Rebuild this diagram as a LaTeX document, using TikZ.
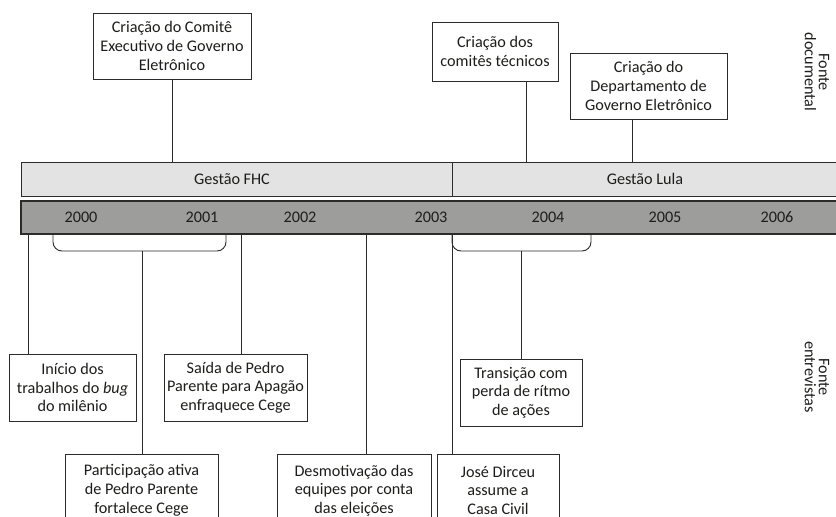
\documentclass[tikz,border=0pt]{standalone}
\usepackage{fontspec}
\setmainfont{Carlito}
\definecolor{bandlight}{HTML}{E3E3E3}
\definecolor{banddark}{HTML}{9D9D9C}
\definecolor{linec}{HTML}{2B2B2A}
\definecolor{txt}{HTML}{1D1D1B}
\begin{document}
\begin{tikzpicture}[x=1pt,y=-1pt,
  box/.style={draw=linec,line width=0.9pt,fill=white,align=center,inner sep=0pt,text=txt,font=\fontsize{16.2}{18.7}\selectfont},
  conn/.style={draw=linec,line width=0.9pt},
  yr/.style={font=\fontsize{16.2}{16}\selectfont,text=txt},
  band/.style={font=\fontsize{16.2}{16}\selectfont,text=txt},
  src/.style={font=\fontsize{16.2}{14}\selectfont,align=center,rotate=-90,text=txt}]
\useasboundingbox (0,0) rectangle (836,517);
\clip (0,0) rectangle (836,517);
% bands
\draw[conn,fill=bandlight] (21,162) rectangle (845,196);
\draw[conn,fill=banddark,line width=1.1pt] (21,201) rectangle (845,234);
\node[band] (fhc) at (232,179) {Gestão FHC};
\node[band] (lula) at (645,179) {Gestão Lula};
\foreach \x/\y in {81/2000,202/2001,300/2002,431/2003,548/2004,665/2005,777/2006}
  \node[yr] (y\y) at (\x,217.5) {\y};
% top boxes
\node[box,minimum width=158pt,minimum height=66pt] (c1) at (172,46) {Criação do Comitê\\Executivo de Governo\\Eletrônico};
\node[box,minimum width=126pt,minimum height=59pt] (c2) at (495,51.5) {Criação dos\\comitês técnicos};
\node[box,minimum width=157pt,minimum height=66pt] (c3) at (648.5,86) {Criação do\\Departamento de\\Governo Eletrônico};
\coordinate (g1) at (172,162);
\coordinate (g2) at (526,162);
\coordinate (g3) at (632,162);
\draw[conn] (c1.south -| g1) -- (g1);
\draw[conn] (c2.south -| g2) -- (g2);
\draw[conn] (c3.south -| g3) -- (g3);
% divider FHC / Lula
\coordinate (dtop) at (452,162);
\coordinate (dbot) at (452,196);
\draw[conn] (dtop) -- (dbot);
% braces
\coordinate (br1a) at (53,234);
\coordinate (br1b) at (226,234);
\coordinate (br2a) at (452,234);
\coordinate (br2b) at (591,234);
\draw[conn,rounded corners=9pt] (br1a) -- (53,251) -- (226,251) -- (br1b);
\draw[conn,rounded corners=9pt] (br2a) -- (452,251) -- (591,251) -- (br2b);
% bottom boxes
\node[box,minimum width=127pt,minimum height=67pt] (b1) at (72.5,387.5) {Início dos\\trabalhos do \emph{bug}\\do milênio};
\node[box,minimum width=143pt,minimum height=67pt] (b2) at (235.5,387.5) {Saída de Pedro\\Parente para Apagão\\enfraquece Cege};
\node[box,minimum width=153pt,minimum height=72pt,anchor=north] (b3) at (141.5,454) {Participação ativa\\de Pedro Parente\\fortalece Cege};
\node[box,minimum width=154pt,minimum height=72pt,anchor=north] (b4) at (354,454) {Desmotivação das\\equipes por conta\\das eleições};
\node[box,minimum width=122pt,minimum height=72pt,anchor=north] (b5) at (498,454) {José Dirceu\\assume a\\Casa Civil};
\node[box,minimum width=122pt,minimum height=67pt] (b6) at (521,392.5) {Transição com\\perda de rítmo\\de ações};
% connectors below
\coordinate (l1) at (28,234);
\coordinate (l2) at (241,234);
\coordinate (l3) at (142,251);
\coordinate (l4) at (366,234);
\coordinate (l6) at (521,251);
\draw[conn] (l1) -- (l1 |- b1.north);
\draw[conn] (l2) -- (l2 |- b2.north);
\draw[conn] (l3) -- (l3 |- b3.north);
\draw[conn] (l4) -- (l4 |- b4.north);
\draw[conn] (br2a) -- (br2a |- b5.north);
\draw[conn] (l6) -- (l6 |- b6.north);
% source labels
\node[src] (fd) at (817,72) {Fonte\\documental};
\node[src] (fe) at (817,377) {Fonte\\entrevistas};
\end{tikzpicture}
\end{document}
